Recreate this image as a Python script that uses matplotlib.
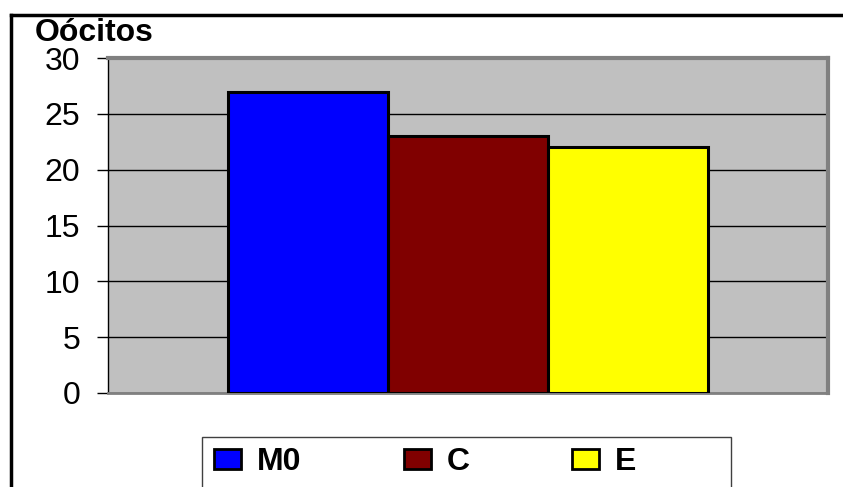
import numpy as np
import matplotlib.pyplot as plt
from matplotlib.patches import Patch, Rectangle
from matplotlib.lines import Line2D

plt.rcParams['font.family'] = ['Liberation Sans', 'DejaVu Sans']

series = ['M0', 'C', 'E']
values = [27, 23, 22]
colors = ['#0000FF', '#800000', '#FFFF00']
yticks = [0, 5, 10, 15, 20, 25, 30]

W, H = 843, 487
fig = plt.figure(figsize=(W / 100, H / 100), dpi=100)

# plot area in pixel coords
left, top, right, bottom = 108, 58, 828, 393
ax = fig.add_axes([left / W, 1 - bottom / H, (right - left) / W, (bottom - top) / H])
ax.set_facecolor('#C0C0C0')

bw = 0.222
x = (np.arange(len(series)) - 1) * bw
for xi, v, c in zip(x, values, colors):
    ax.bar(xi, v, width=bw, color=c, edgecolor='black', linewidth=2.2, zorder=3)

ax.set_xlim(-0.5, 0.5)
ax.set_ylim(0, 30)
ax.set_yticks(yticks)
ax.set_yticklabels([str(t) for t in yticks], fontsize=23)
ax.set_xticks([])
ax.grid(axis='y', color='black', linewidth=1, zorder=1)
ax.tick_params(axis='y', direction='out', length=8, width=1, color='black', pad=12)

for s in ['top', 'right']:
    ax.spines[s].set_color('#808080')
    ax.spines[s].set_linewidth(3)
    ax.spines[s].set_zorder(4)
ax.spines['bottom'].set_color('#808080')
ax.spines['bottom'].set_linewidth(2)
ax.spines['left'].set_color('black')
ax.spines['left'].set_linewidth(1)

fig.text(35 / W, 1 - 33 / H, 'Oócitos', fontsize=23, fontweight='bold', va='center', ha='left')

# outer chart frame (top and left edges visible)
fig.add_artist(Line2D([11 / W, 1], [1 - 15 / H, 1 - 15 / H], color='black', linewidth=2.5))
fig.add_artist(Line2D([11 / W, 11 / W], [0, 1 - 15 / H], color='black', linewidth=2.5))

# legend box
fig.add_artist(Rectangle((202 / W, -0.01), (731 - 202) / W, (487 - 437) / H + 0.01,
                         transform=fig.transFigure, facecolor='white',
                         edgecolor='#404040', linewidth=1))
handles = [Patch(facecolor=c, edgecolor='black', linewidth=2) for c in colors]
leg = fig.legend(handles, series, loc='center left',
                 bbox_to_anchor=(214 / W, 1 - 462 / H),
                 ncol=3, frameon=False,
                 prop={'weight': 'bold', 'size': 23}, handlelength=0.85, handleheight=0.6,
                 handletextpad=0.5, columnspacing=3.2, borderaxespad=0, borderpad=0)

fig.savefig('out.png', dpi=100, facecolor='white')
